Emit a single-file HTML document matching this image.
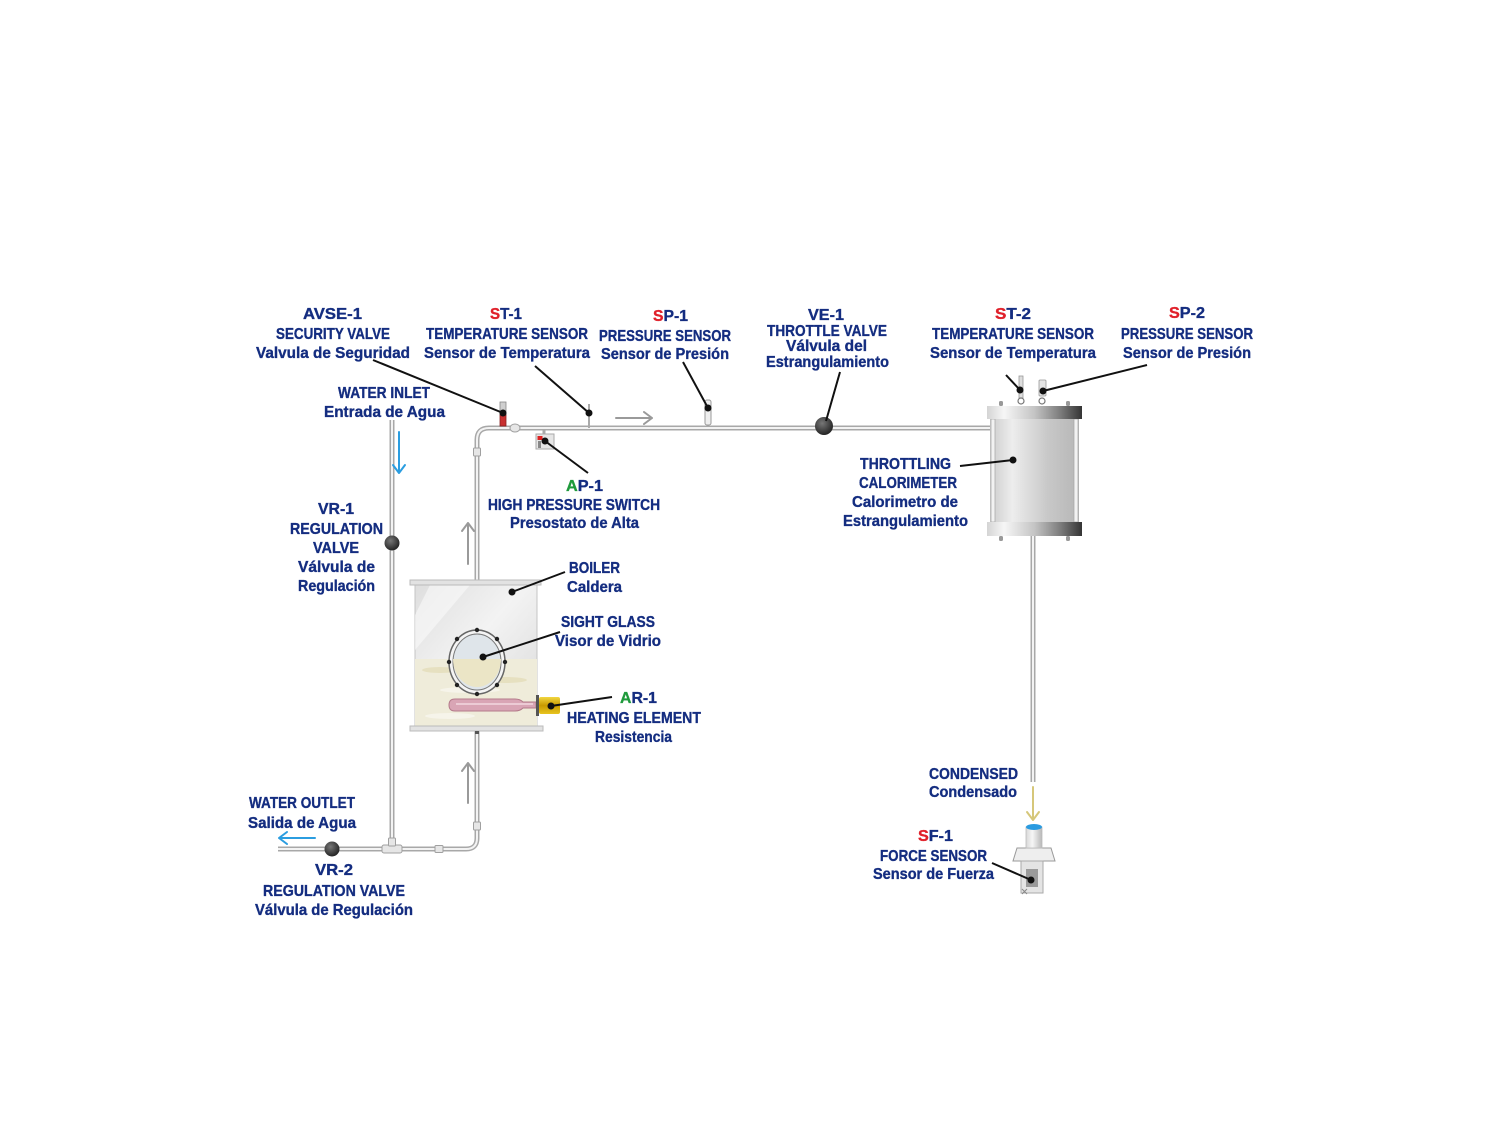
<!DOCTYPE html>
<html><head><meta charset="utf-8">
<style>
html,body{margin:0;padding:0;background:#fff;}
svg{display:block;}
text{font-family:"Liberation Sans",sans-serif;font-weight:bold;fill:#142d80;font-size:16px;stroke:#142d80;stroke-width:0.35px;}
.r{fill:#e0202a;stroke:#e0202a;} .g{fill:#1f9a3c;stroke:#1f9a3c;}
</style></head><body>
<svg width="1500" height="1125" viewBox="0 0 1500 1125" xmlns="http://www.w3.org/2000/svg">
<defs>
<linearGradient id="fl" x1="0" y1="0" x2="1" y2="0">
<stop offset="0" stop-color="#d4d4d4"/><stop offset="0.18" stop-color="#f6f6f6"/><stop offset="0.5" stop-color="#c4c4c4"/><stop offset="0.78" stop-color="#7a7a7a"/><stop offset="1" stop-color="#343434"/></linearGradient>
<linearGradient id="cb" x1="0" y1="0" x2="1" y2="0">
<stop offset="0" stop-color="#cccccc"/><stop offset="0.25" stop-color="#ededed"/><stop offset="0.65" stop-color="#c8c8c8"/><stop offset="1" stop-color="#b6b6b6"/></linearGradient>
<linearGradient id="bb" x1="0" y1="0" x2="1" y2="1">
<stop offset="0" stop-color="#dedede"/><stop offset="0.45" stop-color="#f3f3f3"/><stop offset="1" stop-color="#d8d8d8"/></linearGradient>
<linearGradient id="gold" x1="0" y1="0" x2="0" y2="1">
<stop offset="0" stop-color="#f2d640"/><stop offset="0.5" stop-color="#c89a00"/><stop offset="1" stop-color="#e8c420"/></linearGradient>
<radialGradient id="knob" cx="0.4" cy="0.35" r="0.7">
<stop offset="0" stop-color="#777"/><stop offset="1" stop-color="#1e1e1e"/></radialGradient>
<linearGradient id="bk" x1="0" y1="0" x2="1" y2="0">
<stop offset="0" stop-color="#d8d8d8"/><stop offset="0.4" stop-color="#f6f6f6"/><stop offset="1" stop-color="#b8b8b8"/></linearGradient>
</defs>

<!-- pipes -->
<g fill="none" stroke-linecap="butt">
<g stroke="#a8a8a8" stroke-width="5">
<path d="M477,582 L477,440 Q477,428 489,428 L990,428"/>
<path d="M477,731 L477,838 Q477,849 466,849 L278,849"/>
<path d="M392,420 L392,849"/>
<path d="M1033,536 L1033,782"/>
</g>
<g stroke="#f3f3f3" stroke-width="2">
<path d="M477,582 L477,440 Q477,428 489,428 L990,428"/>
<path d="M477,731 L477,838 Q477,849 466,849 L278,849"/>
<path d="M392,420 L392,849"/>
<path d="M1033,536 L1033,782"/>
</g>
</g>
<!-- fittings -->
<g fill="#e6e6e6" stroke="#a0a0a0" stroke-width="1">
<rect x="473.5" y="448" width="7" height="8" rx="1"/>
<rect x="473.5" y="822" width="7" height="8" rx="1"/>
<rect x="435" y="845.5" width="8" height="7" rx="1"/>
<rect x="382" y="845" width="20" height="8" rx="2"/>
<rect x="388.5" y="838" width="7" height="8" rx="1"/>
<ellipse cx="515" cy="428" rx="5" ry="4"/>
</g>

<!-- valves -->
<circle cx="392" cy="543" r="7.5" fill="url(#knob)"/>
<circle cx="332" cy="849" r="7.5" fill="url(#knob)"/>
<circle cx="824" cy="426" r="9" fill="url(#knob)"/>

<!-- AVSE-1 valve -->
<rect x="500" y="402" width="6" height="13" fill="#cfcfcf" stroke="#888" stroke-width="0.8"/>
<rect x="500" y="415" width="6" height="11" fill="#c83030" stroke="#822" stroke-width="0.8"/>
<!-- ST-1 -->
<line x1="589" y1="404" x2="589" y2="428" stroke="#aaa" stroke-width="2"/>
<!-- SP-1 -->
<rect x="705" y="400" width="6" height="25" rx="2" fill="#eee" stroke="#999" stroke-width="1"/>
<!-- AP-1 -->
<line x1="544" y1="430" x2="544" y2="435" stroke="#aaa" stroke-width="3"/>
<rect x="536" y="434" width="18" height="15" fill="#e6e6e6" stroke="#aaa" stroke-width="1"/>
<rect x="537.5" y="436" width="5" height="4" fill="#d22"/>
<rect x="538" y="441" width="3" height="7" fill="#888"/>

<!-- Boiler -->
<rect x="415" y="585" width="122" height="141" fill="url(#bb)" stroke="#c4c4c4" stroke-width="1"/>
<polygon points="430,585 470,585 415,650 415,615" fill="#fafafa" opacity="0.6"/>
<rect x="415" y="659" width="122" height="67" fill="#efecda"/>
<ellipse cx="440" cy="670" rx="18" ry="3" fill="#e6e0c0"/>
<ellipse cx="505" cy="680" rx="22" ry="3" fill="#e6e0c0"/>
<ellipse cx="470" cy="690" rx="30" ry="3" fill="#f6f4ea"/>
<ellipse cx="450" cy="716" rx="25" ry="3" fill="#f6f4ea"/>
<rect x="410" y="580" width="131" height="5" fill="#e2e2e2" stroke="#bbb" stroke-width="1"/>
<rect x="410" y="726" width="133" height="5" fill="#e2e2e2" stroke="#bbb" stroke-width="1"/>
<rect x="475" y="731" width="4" height="3" fill="#555"/>
<!-- sight glass -->
<ellipse cx="477" cy="662" rx="28" ry="32" fill="#f4f4f4" stroke="#666" stroke-width="1.5"/>
<ellipse cx="477" cy="662" rx="24" ry="28" fill="#dfe5ea" stroke="#777" stroke-width="1"/>
<path d="M453,659 A24,28 0 0 0 501,659 Z" fill="#ebe5c6"/>
<g fill="#222">
<circle cx="477" cy="630" r="2.2"/><circle cx="477" cy="694" r="2.2"/>
<circle cx="449" cy="662" r="2.2"/><circle cx="505" cy="662" r="2.2"/>
<circle cx="457" cy="639" r="2.2"/><circle cx="497" cy="639" r="2.2"/>
<circle cx="457" cy="685" r="2.2"/><circle cx="497" cy="685" r="2.2"/>
</g>
<!-- heating element -->
<path d="M455,699 L515,699 Q520,699 523,702 L536,702 L536,708 L523,708 Q520,711 515,711 L455,711 Q449,711 449,705 Q449,699 455,699 Z" fill="#d9a5b5" stroke="#b47a8a" stroke-width="1"/>
<line x1="456" y1="704" x2="533" y2="704" stroke="#f2d8e0" stroke-width="1.5"/>
<rect x="536" y="695" width="3" height="21" fill="#555"/>
<rect x="539" y="697" width="21" height="17" rx="2" fill="url(#gold)"/>

<!-- Calorimeter -->
<rect x="990" y="419" width="89" height="103" fill="url(#cb)"/>
<rect x="991" y="419" width="4" height="103" fill="#f2f2f2" stroke="#aaa" stroke-width="0.8"/>
<rect x="1074" y="419" width="4" height="103" fill="#f2f2f2" stroke="#aaa" stroke-width="0.8"/>
<rect x="987" y="406" width="95" height="13" fill="url(#fl)"/>
<rect x="987" y="522" width="95" height="14" fill="url(#fl)"/>
<g fill="#999">
<rect x="999" y="401" width="4" height="5" rx="1.5"/><rect x="1066" y="401" width="4" height="5" rx="1.5"/>
<rect x="999" y="536" width="4" height="5" rx="1.5"/><rect x="1066" y="536" width="4" height="5" rx="1.5"/>
</g>
<rect x="1019" y="376" width="4" height="22" fill="#ddd" stroke="#999" stroke-width="0.8"/>
<circle cx="1021" cy="401" r="3" fill="none" stroke="#777" stroke-width="1.2"/>
<rect x="1039" y="380" width="7" height="16" rx="1" fill="#e4e4e4" stroke="#999" stroke-width="0.8"/>
<circle cx="1042" cy="401" r="3" fill="none" stroke="#777" stroke-width="1.2"/>

<!-- SF-1 -->
<polygon points="1017,848 1051,848 1055,861 1013,861" fill="#eee" stroke="#999" stroke-width="1"/>
<rect x="1026" y="827" width="16" height="21" fill="url(#bk)" stroke="#bbb" stroke-width="0.8"/>
<ellipse cx="1034" cy="827" rx="8" ry="3" fill="#2a9be0"/>
<rect x="1021" y="861" width="22" height="32" fill="#e4e4e4" stroke="#aaa" stroke-width="1"/>
<rect x="1026" y="869" width="12" height="18" fill="#9a9a9a"/>
<path d="M1022,889 l5,5 M1027,889 l-5,5" stroke="#888" stroke-width="1"/>

<!-- arrows -->
<g fill="none" stroke-width="2" stroke-linecap="round" stroke-linejoin="round">
<g stroke="#9a9a9a">
<path d="M616,418 L652,418 M644,412 L652,418 L644,424"/>
<path d="M468,564 L468,523 M462,531 L468,523 L474,531"/>
<path d="M468,803 L468,763 M462,771 L468,763 L474,771"/>
</g>
<g stroke="#2b9de0">
<path d="M399,432 L399,473 M393,465 L399,473 L405,465"/>
<path d="M315,838 L279,838 M287,832 L279,838 L287,844"/>
</g>
<path stroke="#d6c77a" d="M1033,787 L1033,820 M1027,812 L1033,820 L1039,812"/>
</g>

<!-- leaders -->
<g stroke="#111" stroke-width="2" fill="none">
<line x1="373" y1="360" x2="503" y2="413"/>
<line x1="535" y1="366" x2="589" y2="413"/>
<line x1="683" y1="362" x2="708" y2="408"/>
<line x1="840" y1="372" x2="826" y2="421"/>
<line x1="1006" y1="375" x2="1020" y2="390"/>
<line x1="1147" y1="365" x2="1043" y2="391"/>
<line x1="588" y1="473" x2="545" y2="441"/>
<line x1="960" y1="466" x2="1013" y2="460"/>
<line x1="565" y1="572" x2="512" y2="592"/>
<line x1="560" y1="632" x2="483" y2="657"/>
<line x1="612" y1="697" x2="551" y2="706"/>
<line x1="992" y1="863" x2="1031" y2="880"/>
</g>
<g fill="#111">
<circle cx="503" cy="413" r="3.5"/><circle cx="589" cy="413" r="3.5"/>
<circle cx="708" cy="408" r="3.5"/><circle cx="1020" cy="390" r="3.5"/>
<circle cx="1043" cy="391" r="3.5"/><circle cx="545" cy="441" r="3.5"/>
<circle cx="1013" cy="460" r="3.5"/><circle cx="512" cy="592" r="3.5"/>
<circle cx="483" cy="657" r="3.5"/><circle cx="551" cy="706" r="3.5"/>
<circle cx="1031" cy="880" r="3.5"/>
</g>

<!-- labels -->
<g>
<text x="303" y="319" textLength="59" lengthAdjust="spacingAndGlyphs">AVSE-1</text>
<text x="276" y="339" textLength="114" lengthAdjust="spacingAndGlyphs">SECURITY VALVE</text>
<text x="256" y="358" textLength="154" lengthAdjust="spacingAndGlyphs">Valvula de Seguridad</text>

<text x="490" y="319" textLength="32" lengthAdjust="spacingAndGlyphs"><tspan class="r">S</tspan>T-1</text>
<text x="426" y="339" textLength="162" lengthAdjust="spacingAndGlyphs">TEMPERATURE SENSOR</text>
<text x="424" y="358" textLength="166" lengthAdjust="spacingAndGlyphs">Sensor de Temperatura</text>

<text x="653" y="321" textLength="35" lengthAdjust="spacingAndGlyphs"><tspan class="r">S</tspan>P-1</text>
<text x="599" y="341" textLength="132" lengthAdjust="spacingAndGlyphs">PRESSURE SENSOR</text>
<text x="601" y="359" textLength="128" lengthAdjust="spacingAndGlyphs">Sensor de Presión</text>

<text x="808" y="320" textLength="36" lengthAdjust="spacingAndGlyphs">VE-1</text>
<text x="767" y="336" textLength="120" lengthAdjust="spacingAndGlyphs">THROTTLE VALVE</text>
<text x="786" y="351" textLength="81" lengthAdjust="spacingAndGlyphs">Válvula del</text>
<text x="766" y="367" textLength="123" lengthAdjust="spacingAndGlyphs">Estrangulamiento</text>

<text x="995" y="319" textLength="36" lengthAdjust="spacingAndGlyphs"><tspan class="r">S</tspan>T-2</text>
<text x="932" y="339" textLength="162" lengthAdjust="spacingAndGlyphs">TEMPERATURE SENSOR</text>
<text x="930" y="358" textLength="166" lengthAdjust="spacingAndGlyphs">Sensor de Temperatura</text>

<text x="1169" y="318" textLength="36" lengthAdjust="spacingAndGlyphs"><tspan class="r">S</tspan>P-2</text>
<text x="1121" y="339" textLength="132" lengthAdjust="spacingAndGlyphs">PRESSURE SENSOR</text>
<text x="1123" y="358" textLength="128" lengthAdjust="spacingAndGlyphs">Sensor de Presión</text>

<text x="338" y="398" textLength="92" lengthAdjust="spacingAndGlyphs">WATER INLET</text>
<text x="324" y="417" textLength="121" lengthAdjust="spacingAndGlyphs">Entrada de Agua</text>

<text x="566" y="491" textLength="37" lengthAdjust="spacingAndGlyphs"><tspan class="g">A</tspan>P-1</text>
<text x="488" y="510" textLength="172" lengthAdjust="spacingAndGlyphs">HIGH PRESSURE SWITCH</text>
<text x="510" y="528" textLength="129" lengthAdjust="spacingAndGlyphs">Presostato de Alta</text>

<text x="318" y="514" textLength="36" lengthAdjust="spacingAndGlyphs">VR-1</text>
<text x="290" y="534" textLength="93" lengthAdjust="spacingAndGlyphs">REGULATION</text>
<text x="313" y="553" textLength="46" lengthAdjust="spacingAndGlyphs">VALVE</text>
<text x="298" y="572" textLength="77" lengthAdjust="spacingAndGlyphs">Válvula de</text>
<text x="298" y="591" textLength="77" lengthAdjust="spacingAndGlyphs">Regulación</text>

<text x="569" y="573" textLength="51" lengthAdjust="spacingAndGlyphs">BOILER</text>
<text x="567" y="592" textLength="55" lengthAdjust="spacingAndGlyphs">Caldera</text>
<text x="561" y="627" textLength="94" lengthAdjust="spacingAndGlyphs">SIGHT GLASS</text>
<text x="555" y="646" textLength="106" lengthAdjust="spacingAndGlyphs">Visor de Vidrio</text>
<text x="620" y="703" textLength="37" lengthAdjust="spacingAndGlyphs"><tspan class="g">A</tspan>R-1</text>
<text x="567" y="723" textLength="134" lengthAdjust="spacingAndGlyphs">HEATING ELEMENT</text>
<text x="595" y="742" textLength="77" lengthAdjust="spacingAndGlyphs">Resistencia</text>

<text x="860" y="469" textLength="91" lengthAdjust="spacingAndGlyphs">THROTTLING</text>
<text x="859" y="488" textLength="98" lengthAdjust="spacingAndGlyphs">CALORIMETER</text>
<text x="852" y="507" textLength="106" lengthAdjust="spacingAndGlyphs">Calorimetro de</text>
<text x="843" y="526" textLength="125" lengthAdjust="spacingAndGlyphs">Estrangulamiento</text>

<text x="929" y="779" textLength="89" lengthAdjust="spacingAndGlyphs">CONDENSED</text>
<text x="929" y="797" textLength="88" lengthAdjust="spacingAndGlyphs">Condensado</text>
<text x="918" y="841" textLength="35" lengthAdjust="spacingAndGlyphs"><tspan class="r">S</tspan>F-1</text>
<text x="880" y="861" textLength="107" lengthAdjust="spacingAndGlyphs">FORCE SENSOR</text>
<text x="873" y="879" textLength="121" lengthAdjust="spacingAndGlyphs">Sensor de Fuerza</text>

<text x="249" y="808" textLength="106" lengthAdjust="spacingAndGlyphs">WATER OUTLET</text>
<text x="248" y="828" textLength="108" lengthAdjust="spacingAndGlyphs">Salida de Agua</text>
<text x="315" y="875" textLength="38" lengthAdjust="spacingAndGlyphs">VR-2</text>
<text x="263" y="896" textLength="142" lengthAdjust="spacingAndGlyphs">REGULATION VALVE</text>
<text x="255" y="915" textLength="158" lengthAdjust="spacingAndGlyphs">Válvula de Regulación</text>
</g>
</svg>
</body></html>
